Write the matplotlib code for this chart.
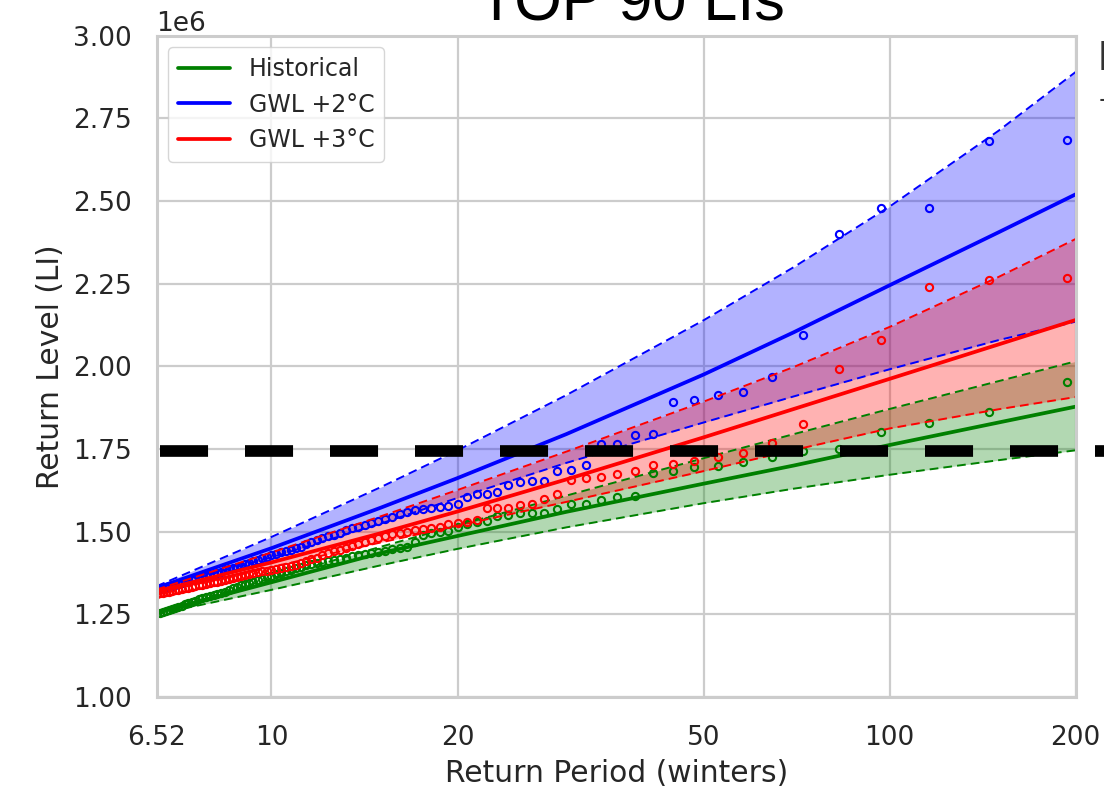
import matplotlib
matplotlib.use("Agg")
import matplotlib.pyplot as plt
import seaborn as sns

# ---------------- data (return levels in units of 1e6 LI) ----------------
SCALE = 1e6

return_period_fit = [6.517, 10, 15, 20, 30, 50, 70, 100, 150, 200]

hist_mid = [1.255, 1.347, 1.435, 1.487, 1.560, 1.645, 1.700, 1.762, 1.830, 1.878]
hist_lo = [1.250, 1.324, 1.398, 1.448, 1.513, 1.586, 1.630, 1.672, 1.716, 1.746]
hist_hi = [1.255, 1.359, 1.454, 1.519, 1.609, 1.722, 1.795, 1.871, 1.955, 2.015]

gwl2_mid = [1.330, 1.450, 1.572, 1.662, 1.795, 1.975, 2.103, 2.245, 2.405, 2.520]
gwl2_lo = [1.325, 1.422, 1.524, 1.602, 1.708, 1.830, 1.909, 1.991, 2.079, 2.135]
gwl2_hi = [1.335, 1.484, 1.634, 1.746, 1.913, 2.139, 2.300, 2.483, 2.712, 2.890]

gwl3_mid = [1.320, 1.407, 1.495, 1.561, 1.658, 1.785, 1.871, 1.962, 2.066, 2.140]
gwl3_lo = [1.315, 1.393, 1.467, 1.518, 1.590, 1.683, 1.747, 1.812, 1.870, 1.907]
gwl3_hi = [1.325, 1.437, 1.546, 1.626, 1.742, 1.893, 1.998, 2.119, 2.270, 2.385]

return_period_emp = [
    193.33, 145.0, 116.0, 96.67, 82.86, 72.5, 64.44, 58.0, 52.73, 48.33,
    44.62, 41.43, 38.67, 36.25, 34.12, 32.22, 30.53, 29.0, 27.62, 26.36,
    25.22, 24.17, 23.2, 22.31, 21.48, 20.71, 20.0, 19.33, 18.71, 18.13,
    17.58, 17.06, 16.57, 16.11, 15.68, 15.26, 14.87, 14.5, 14.15, 13.81,
    13.49, 13.18, 12.89, 12.61, 12.34, 12.08, 11.84, 11.6, 11.37, 11.15,
    10.94, 10.74, 10.55, 10.36, 10.18, 10.0, 9.83, 9.67, 9.51, 9.35,
    9.21, 9.06, 8.92, 8.79, 8.66, 8.53, 8.41, 8.29, 8.17, 8.06,
    7.95, 7.84, 7.73, 7.63, 7.53, 7.44, 7.34, 7.25, 7.16, 7.07,
    6.99, 6.9, 6.82, 6.74, 6.67, 6.59, 6.517,
]

hist_emp = [
    1.952, 1.862, 1.827, 1.802, 1.750, 1.745, 1.725, 1.710, 1.698, 1.696,
    1.684, 1.676, 1.608, 1.605, 1.596, 1.583, 1.583, 1.568, 1.557, 1.557,
    1.555, 1.550, 1.548, 1.532, 1.530, 1.522, 1.515, 1.502, 1.500, 1.495,
    1.490, 1.469, 1.454, 1.451, 1.447, 1.443, 1.439, 1.435, 1.432, 1.428,
    1.425, 1.421, 1.418, 1.415, 1.411, 1.407, 1.404, 1.401, 1.398, 1.394,
    1.390, 1.385, 1.381, 1.376, 1.371, 1.366, 1.362, 1.357, 1.353, 1.349,
    1.345, 1.341, 1.338, 1.334, 1.329, 1.324, 1.319, 1.314, 1.310, 1.307,
    1.304, 1.301, 1.298, 1.295, 1.291, 1.288, 1.284, 1.280, 1.276, 1.272,
    1.268, 1.265, 1.262, 1.259, 1.257, 1.255, 1.253,
]

gwl2_emp = [
    2.685, 2.680, 2.480, 2.480, 2.400, 2.096, 1.967, 1.921, 1.913, 1.898,
    1.892, 1.794, 1.792, 1.764, 1.764, 1.703, 1.686, 1.684, 1.654, 1.652,
    1.649, 1.641, 1.621, 1.614, 1.613, 1.605, 1.585, 1.577, 1.575, 1.570,
    1.567, 1.565, 1.558, 1.552, 1.545, 1.538, 1.531, 1.527, 1.521, 1.515,
    1.511, 1.504, 1.497, 1.490, 1.486, 1.480, 1.474, 1.468, 1.462, 1.455,
    1.450, 1.446, 1.441, 1.437, 1.432, 1.428, 1.424, 1.419, 1.414, 1.410,
    1.406, 1.402, 1.397, 1.393, 1.390, 1.386, 1.383, 1.379, 1.376, 1.372,
    1.369, 1.366, 1.363, 1.360, 1.357, 1.354, 1.351, 1.348, 1.346, 1.343,
    1.340, 1.337, 1.335, 1.332, 1.330, 1.327, 1.325,
]

gwl3_emp = [
    2.268, 2.260, 2.240, 2.078, 1.993, 1.824, 1.769, 1.739, 1.726, 1.714,
    1.704, 1.703, 1.683, 1.673, 1.666, 1.663, 1.656, 1.613, 1.599, 1.583,
    1.580, 1.572, 1.572, 1.570, 1.535, 1.530, 1.525, 1.523, 1.515, 1.510,
    1.507, 1.505, 1.500, 1.497, 1.493, 1.488, 1.482, 1.476, 1.470, 1.463,
    1.458, 1.452, 1.446, 1.440, 1.434, 1.428, 1.421, 1.416, 1.410, 1.405,
    1.400, 1.396, 1.393, 1.390, 1.387, 1.385, 1.382, 1.380, 1.377, 1.374,
    1.371, 1.368, 1.366, 1.363, 1.360, 1.357, 1.354, 1.352, 1.349, 1.347,
    1.344, 1.342, 1.340, 1.338, 1.336, 1.333, 1.331, 1.329, 1.327, 1.325,
    1.323, 1.321, 1.319, 1.318, 1.316, 1.315, 1.313,
]

threshold = 1.745

series_labels = ["Historical", "GWL +2°C", "GWL +3°C"]
series_colors = ["green", "blue", "red"]

xtick_values = [6.517, 10, 20, 50, 100, 200]
xtick_labels = ["6.52", "10", "20", "50", "100", "200"]
ylim = (1.0, 3.0)

# ---------------- figure ----------------
sns.set_theme(style="whitegrid")
plt.rcParams["font.family"] = ["DejaVu Sans"]

fig = plt.figure(figsize=(11.04, 7.86), dpi=100)
ax = fig.add_axes([0.1418, 0.1132, 0.8326, 0.8416])

fits = [(hist_lo, hist_mid, hist_hi, hist_emp),
        (gwl2_lo, gwl2_mid, gwl2_hi, gwl2_emp),
        (gwl3_lo, gwl3_mid, gwl3_hi, gwl3_emp)]


def sc(vals):
    return [v * SCALE for v in vals]


for (lo, mid, hi, emp), lab, col in zip(fits, series_labels, series_colors):
    ax.fill_between(return_period_fit, sc(lo), sc(hi), color=col, alpha=0.3, lw=0)
    ax.plot(return_period_fit, sc(lo), color=col, lw=1.4, ls=(0, (4.5, 2.6)))
    ax.plot(return_period_fit, sc(hi), color=col, lw=1.4, ls=(0, (4.5, 2.6)))
    ax.plot(return_period_fit, sc(mid), color=col, lw=2.7, label=lab)
    ax.plot(return_period_emp, sc(emp), ls="none", marker="o", ms=5.2,
            mfc="none", mec=col, mew=1.5)

lw_thr = 8.4
ax.axhline(threshold * SCALE, xmin=0.0038, xmax=1.05, clip_on=False,
           color="black", lw=lw_thr, solid_capstyle="butt", dash_capstyle="butt",
           ls=(0, (34.6 / lw_thr, 26.6 / lw_thr)), zorder=10)

ax.set_xscale("log")
ax.set_xlim(xtick_values[0], xtick_values[-1])
ax.set_ylim(ylim[0] * SCALE, ylim[1] * SCALE)
ax.set_xticks(xtick_values)
ax.set_xticklabels(xtick_labels)
ax.xaxis.set_minor_locator(matplotlib.ticker.NullLocator())

ax.tick_params(axis="x", labelsize=19, length=0, pad=20, colors="#262626")
ax.tick_params(axis="y", labelsize=19, length=0, pad=17.5, colors="#262626")
ax.yaxis.get_offset_text().set_fontsize(19)

ax.grid(True, color="#cccccc", lw=1.6)
ax.set_axisbelow(True)
for sp in ax.spines.values():
    sp.set_color("#cccccc")
    sp.set_linewidth(2.2)

ax.set_xlabel("Return Period (winters)", fontsize=21.4, labelpad=6, color="#262626")
ax.set_ylabel("Return Level (LI)", fontsize=21.4, labelpad=6, color="#262626")

leg = ax.legend(loc="upper left", fontsize=17, handlelength=2.2,
                frameon=True, fancybox=True, edgecolor="#cccccc")

fig.text(631.5 / 1104, 1 - 20.5 / 786, "TOP 90 LIs", fontsize=44,
         family="Liberation Sans", ha="center", va="baseline", color="black")
fig.text(1098 / 1104, 1 - 70 / 786, "E", fontsize=30,
         family="Liberation Sans", ha="left", va="baseline", color="#333333")
fig.text(1099 / 1104, 1 - 100 / 786, "-", fontsize=22,
         family="Liberation Sans", ha="left", va="center", color="#333333")

fig.savefig("out.png", dpi=100)
